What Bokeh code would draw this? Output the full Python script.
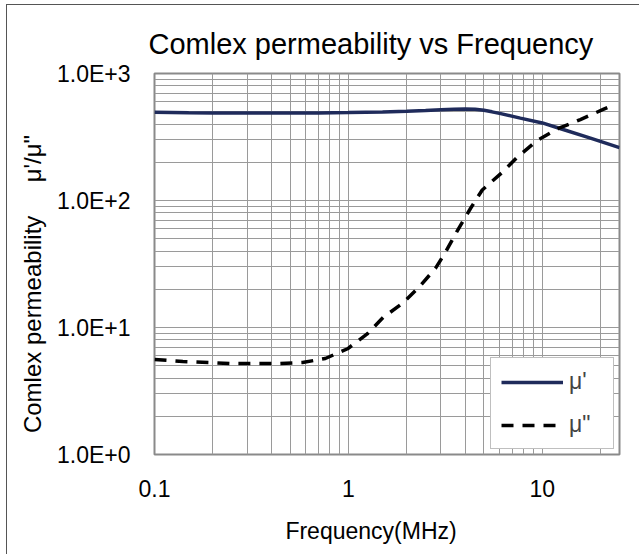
from bokeh.plotting import figure
from bokeh.models import (Range1d, FixedTicker, CustomJSTickFormatter,
                          Legend, LegendItem)
from bokeh.embed import file_html
from bokeh.resources import INLINE

# ---------------- data ----------------
freq_mu1 = [0.1, 0.15, 0.2, 0.3, 0.5, 0.7, 1.0, 1.5, 2.0, 2.5, 3.0, 3.5,
            4.0, 4.5, 5.0, 5.5, 6.1, 7.7, 10.0, 12.1, 17.7, 25.0]
mu1 = [495, 490, 488, 488, 488, 489, 492, 498, 505, 511, 518, 524,
       526, 523, 513, 499, 483, 445, 408, 372, 310, 261]

freq_mu2 = [0.1, 0.14, 0.19, 0.25, 0.32, 0.43, 0.58, 0.76, 0.99, 1.25, 1.51,
            1.9, 2.3, 2.81, 3.16, 3.65, 4.26, 4.9, 6.2, 7.4, 9.4, 12.1, 15.7,
            20.6, 23.0]
mu2 = [5.6, 5.4, 5.3, 5.2, 5.2, 5.2, 5.3, 5.7, 6.8, 8.9, 12.0,
       15.5, 20.6, 29.2, 39, 58, 86.5, 121, 166, 218, 297, 369, 434,
       521, 560]

x_major = [0.1, 1, 10]
y_major = [1, 10, 100, 1000]
NB = "\u00a0"
title_text = "Comlex permeability vs Frequency"
x_label = "Frequency(MHz)" + NB * 5
y_label = "Comlex permeability" + NB * 5 + "μ'/μ\"" + NB * 6
series_names = ["μ'", "μ\""]

FONT = "Liberation Sans"

p = figure(width=633, height=550, x_axis_type="log", y_axis_type="log",
           x_range=Range1d(0.1, 25), y_range=Range1d(1, 1000),
           output_backend="svg", toolbar_location=None,
           min_border_left=147, min_border_right=21,
           min_border_top=68, min_border_bottom=101)
p.styles = {"margin-left": "6px", "margin-top": "4px",
            "border-left": "1px solid #555", "border-top": "1px solid #555"}
p.background_fill_color = "white"
p.border_fill_color = "white"
p.outline_line_color = "#8a8a8a"
p.outline_line_width = 2

p.title.text = title_text
p.title.text_font = FONT
p.title.text_font_size = "29px"
p.title.text_font_style = "normal"
p.title.text_color = "black"
p.title.align = "left"
p.title.offset = -6
p.title.standoff = 28

x_minor = [m * d for d in (0.1, 1, 10) for m in range(2, 10) if m * d <= 25]
y_minor = [m * d for d in (1, 10, 100) for m in range(2, 10)]
xt = FixedTicker(ticks=x_major, minor_ticks=x_minor)
yt = FixedTicker(ticks=y_major, minor_ticks=y_minor)
p.xaxis.ticker = xt
p.yaxis.ticker = yt
p.xgrid.ticker = xt
p.ygrid.ticker = yt

p.xaxis.formatter = CustomJSTickFormatter(
    code="return tick < 1 ? tick.toFixed(1) : tick.toFixed(0);")
p.yaxis.formatter = CustomJSTickFormatter(
    code="return '1.0E+' + Math.round(Math.log10(tick));")

for ax in (p.xaxis[0], p.yaxis[0]):
    ax.axis_line_color = None
    ax.major_tick_line_color = None
    ax.minor_tick_line_color = None
    ax.major_tick_in = 0
    ax.major_tick_out = 0
    ax.minor_tick_in = 0
    ax.minor_tick_out = 0
    ax.major_label_text_font = FONT
    ax.major_label_text_font_size = "23px"
    ax.major_label_text_color = "black"
    ax.axis_label_text_font = FONT
    ax.axis_label_text_font_style = "normal"
    ax.axis_label_text_color = "black"
p.yaxis.major_label_standoff = 24
p.xaxis.major_label_standoff = 25
p.xaxis.axis_label = x_label
p.xaxis.axis_label_text_font_size = "23px"
p.xaxis.axis_label_standoff = 18
p.yaxis.axis_label = y_label
p.yaxis.axis_label_text_font_size = "24px"
p.yaxis.axis_label_standoff = 8

for g in (p.xgrid[0], p.ygrid[0]):
    g.grid_line_color = "#9a9a9a"
    g.grid_line_width = 1
    g.minor_grid_line_color = "#9a9a9a"
    g.minor_grid_line_width = 1

r1 = p.line(freq_mu1, mu1, line_color="#1f2b5b", line_width=3.5)
r2 = p.line(freq_mu2, mu2, line_color="black", line_width=3.5,
            line_dash="12 9")

legend = Legend(items=[LegendItem(label=series_names[0], renderers=[r1]),
                       LegendItem(label=series_names[1], renderers=[r2])],
                location="bottom_right")
legend.border_line_color = "#808080"
legend.border_line_width = 1.5
legend.background_fill_color = "white"
legend.background_fill_alpha = 1
legend.label_text_font = FONT
legend.label_text_font_size = "23px"
legend.glyph_width = 62
legend.glyph_height = 24
legend.label_height = 24
legend.label_width = 34
legend.label_standoff = 6
legend.padding = 10
legend.spacing = 16
legend.margin = 5
p.add_layout(legend, "center")

open("out.html", "w").write(file_html(p, INLINE))
